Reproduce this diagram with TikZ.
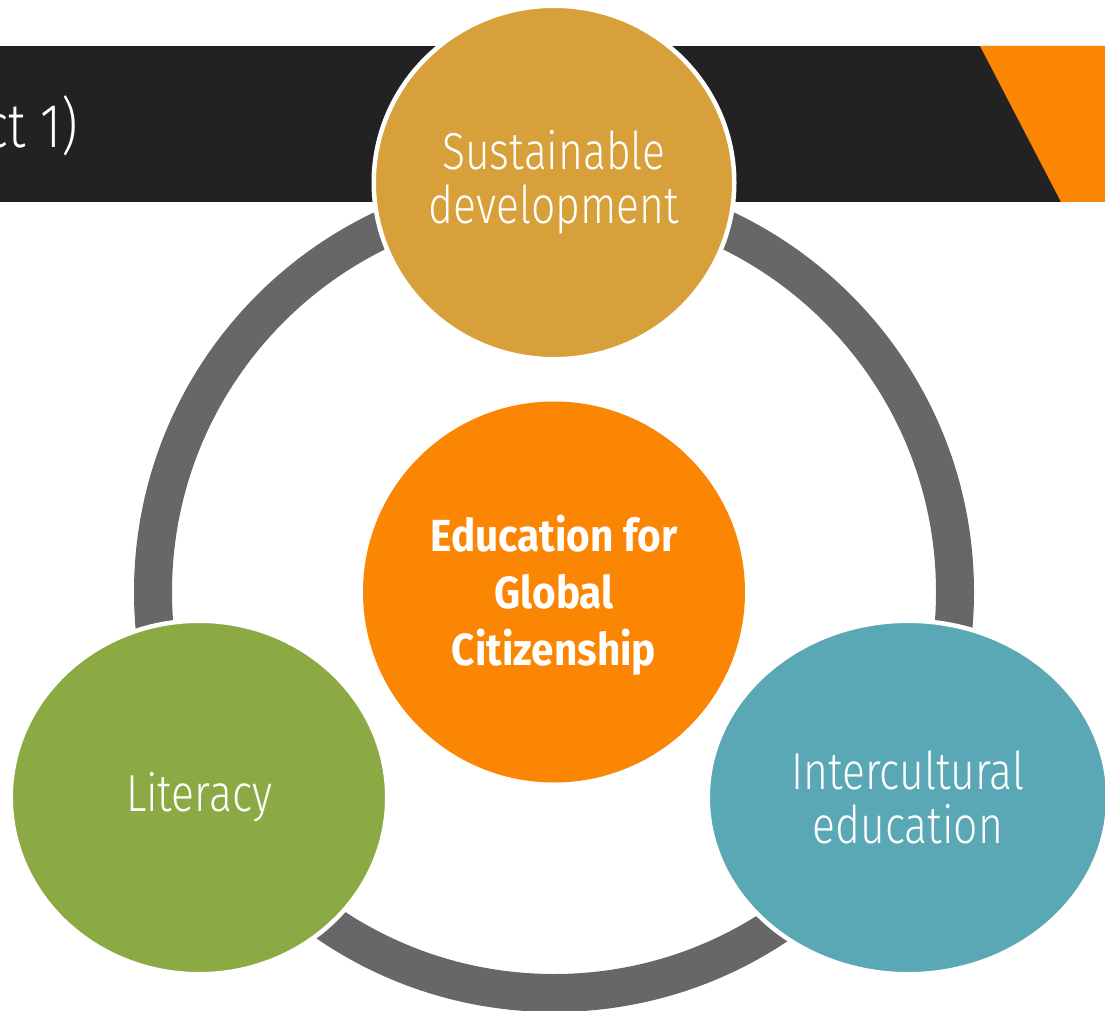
\documentclass[tikz,border=0pt]{standalone}
\usepackage{fontspec}
\usetikzlibrary{shapes.geometric}
\newfontfamily\lightfont{Fira Sans Light}[FakeStretch=0.82]
\newfontfamily\boldfont{Fira Sans}[FakeStretch=0.9,UprightFont=* Bold]
\definecolor{barDark}{HTML}{222222}
\definecolor{accentOrange}{HTML}{FB8604}
\definecolor{ringGray}{HTML}{676767}
\definecolor{sustGold}{HTML}{D8A03A}
\definecolor{litGreen}{HTML}{8BAA44}
\definecolor{interTeal}{HTML}{5AA7B5}
\begin{document}
\begin{tikzpicture}[x=1pt,y=-1pt,
  bubble/.style={ellipse, draw=white, line width=4.5pt, inner sep=0pt,
    text=white, align=center, font=\lightfont\fontsize{52}{54}\selectfont},
  hub/.style={ellipse, fill=accentOrange, inner sep=0pt, text=white,
    align=center, font=\boldfont\fontsize{45}{57}\selectfont},
  ring/.style={draw=ringGray, line width=38pt}]
\useasboundingbox (0,0) rectangle (1105,1011);

% title bar with its orange end
\fill[barDark] (0,46) rectangle (1105,202);
\fill[accentOrange] (980,46) -- (1105,46) -- (1105,202) -- (1061,202) -- cycle;
\node[anchor=base east, text=white, inner sep=0pt,
  font=\lightfont\fontsize{62}{62}\selectfont] (title) at (78,148) {ct 1)};

% central topic
\node[hub, minimum width=382pt, minimum height=381pt] (egc) at (554,592)
  {\rule{0pt}{42pt}Education for\\Global\\Citizenship};

% cycle ring behind the three outer topics
\draw[ring] (egc.center) circle[radius=401];

% outer topics
\node[bubble, fill=sustGold, minimum width=360.5pt, minimum height=353.5pt]
  (sust) at (554,182.5) {Sustainable\\development};
\node[bubble, fill=litGreen, minimum width=376.5pt, minimum height=353.5pt]
  (lit) at (199,797.5) {Literacy};
\node[bubble, fill=interTeal, minimum width=400.5pt, minimum height=353.5pt]
  (inter) at (908,797.5) {Intercultural\\education};
\end{tikzpicture}
\end{document}
